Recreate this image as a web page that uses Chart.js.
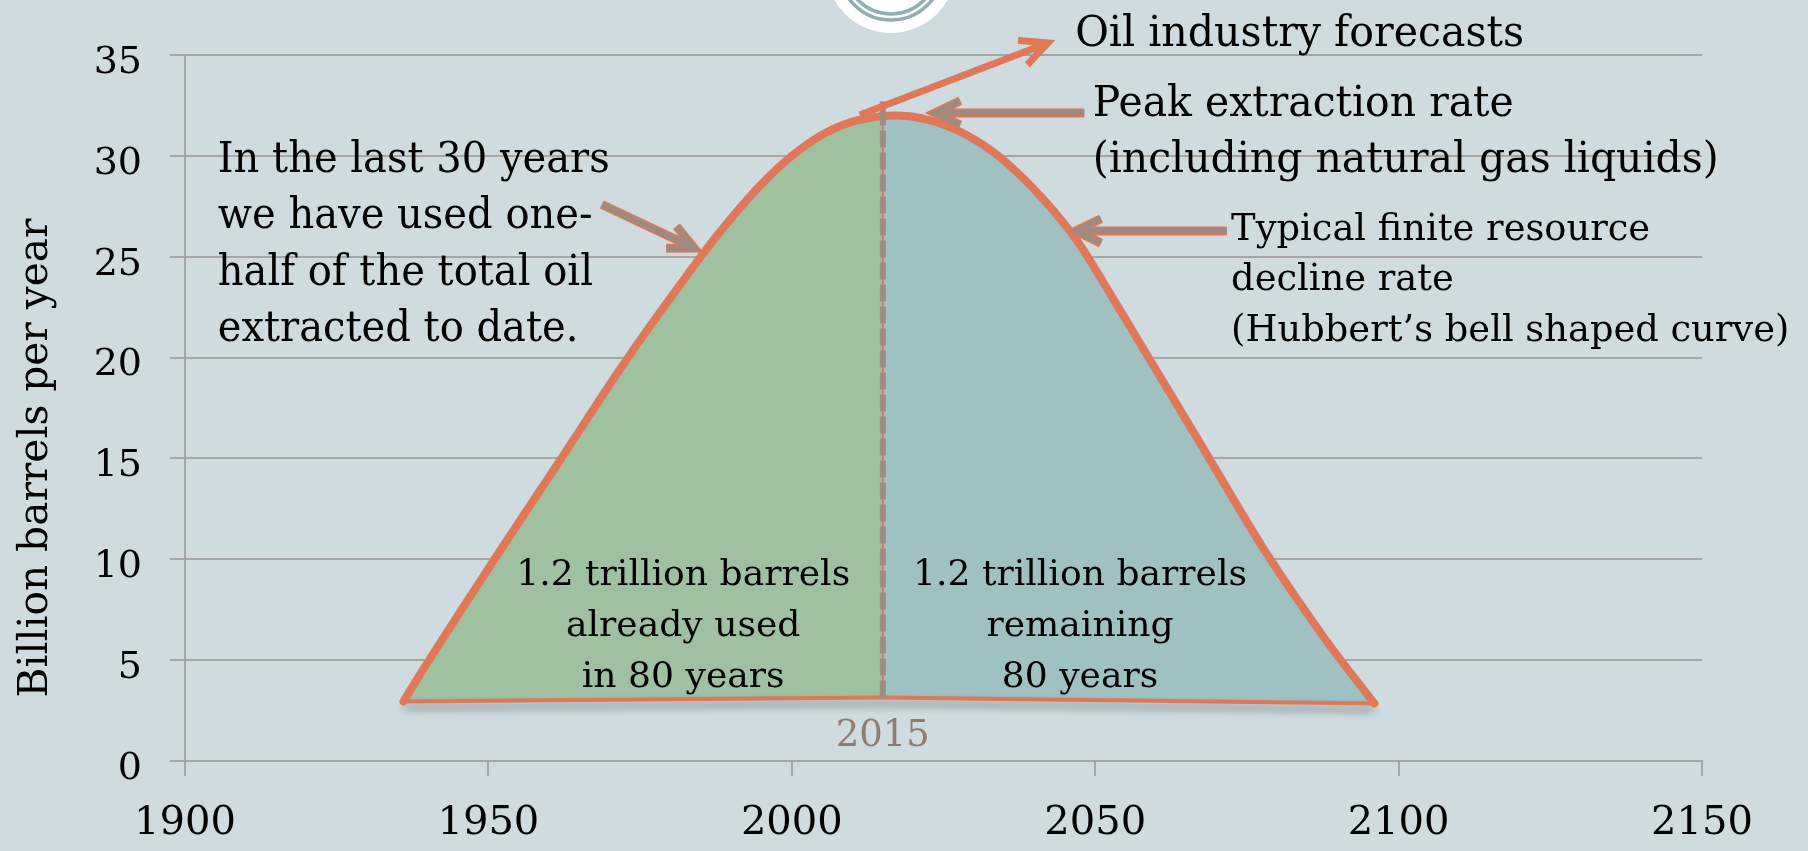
<!DOCTYPE html>
<html>
<head>
<meta charset="utf-8">
<title>Oil extraction and Hubbert's curve</title>
<script src="https://cdn.jsdelivr.net/npm/chart.js@4.4.1/dist/chart.umd.min.js"></script>
<style>
  html, body { margin: 0; padding: 0; background: #cfdbdf; overflow: hidden; }
  canvas { display: block; }
</style>
</head>
<body>
<canvas id="oilChart" width="1808" height="851"></canvas>
<script>
// extraction rate along the bell curve (billion barrels per year)
const curveYears = [1936, 1940, 1951, 1962, 1973, 1985, 1990, 1995, 2000, 2005, 2010, 2015, 2017, 2020, 2025, 2030, 2035, 2041, 2047, 2053, 2058, 2068, 2078, 2088, 2096];
const curveRates = [2.95, 4.9, 10, 15, 20, 25.0, 26.9, 28.6, 30.0, 31.05, 31.7, 31.98, 32.0, 31.94, 31.56, 30.83, 29.76, 28.0, 25.8, 22.9, 20.4, 15.4, 10.4, 6.0, 2.85];

// bottom edge of the shaded area
const baseYears = [1936, 2015, 2096];
const baseRates = [2.95, 3.15, 2.85];

// today: used vs remaining
const splitYear = 2015;
const dividerTop = 32.7;

const xTicks = [1900, 1950, 2000, 2050, 2100, 2150];
const yTicks = [0, 5, 10, 15, 20, 25, 30, 35];

const FONT = '"DejaVu Serif", Georgia, serif';
const ORANGE = '#df7858';
const GREY = '#a08a80';
const GRID = '#a6a6a6';
const TENSION = 0.3;

const pts = (xs, ys) => xs.map((x, i) => ({ x: x, y: ys[i] }));
const curve = pts(curveYears, curveRates);
const usedPart = curve.filter(p => p.x <= splitYear);
const leftPart = curve.filter(p => p.x >= splitYear);
const baseAtSplit = baseRates[baseYears.indexOf(splitYear)];
const rateAtSplit = curveRates[curveYears.indexOf(splitYear)];

// text notes, anchored in data units (x = year, y = rate)
const notes = [
  { lines: ['Oil industry forecasts'], x: 2046.7, y: 35.45, size: 42, lead: 0, width: 449, align: 'left' },
  { lines: ['Peak extraction rate', '(including natural gas liquids)'], x: 2049.6, y: 31.98, size: 42, lead: 56, width: 421, align: 'left' },
  { lines: ['Typical finite resource', 'decline rate', '(Hubbert\u2019s bell shaped curve)'], x: 2072.4, y: 25.83, size: 37, lead: 50.5, width: 419, align: 'left' },
  { lines: ['In the last 30 years', 'we have used one-', 'half of the total oil', 'extracted to date.'], x: 1905.4, y: 29.2, size: 42, lead: 56.5, width: 392, align: 'left' },
  { lines: ['1.2 trillion barrels', 'already used', 'in 80 years'], x: 1982.1, y: 8.73, size: 36, lead: 51, width: 334, align: 'center' },
  { lines: ['1.2 trillion barrels', 'remaining', '80 years'], x: 2047.5, y: 8.73, size: 36, lead: 51, width: 334, align: 'center' },
  { lines: ['2015'], x: splitYear, y: 0.74, size: 37, lead: 0, align: 'center', color: '#8e7d74' }
];

// arrows: from (x1,y1) to the tip (x2,y2)
const arrows = [
  { x1: 2011.2, y1: 32.03, x2: 2042.2, y2: 35.6, color: ORANGE, edge: null, width: 7, head: 30 },
  { x1: 2048.2, y1: 32.13, x2: 2023.6, y2: 32.13, color: GREY, edge: ORANGE, width: 6, head: 28 },
  { x1: 2071.7, y1: 26.28, x2: 2046.8, y2: 26.28, color: GREY, edge: ORANGE, width: 6, head: 28 },
  { x1: 1968.7, y1: 27.59, x2: 1983.9, y2: 25.43, color: GREY, edge: ORANGE, width: 6, head: 28 }
];

function toPx(chart, x, y) {
  return [chart.scales.x.getPixelForValue(x), chart.scales.y.getPixelForValue(y)];
}

function drawArrow(ctx, a, p1, p2) {
  const ang = Math.atan2(p2[1] - p1[1], p2[0] - p1[0]);
  const spread = 0.45;
  const path = () => {
    ctx.beginPath();
    ctx.moveTo(p1[0], p1[1]);
    ctx.lineTo(p2[0], p2[1]);
    ctx.moveTo(p2[0] - a.head * Math.cos(ang - spread), p2[1] - a.head * Math.sin(ang - spread));
    ctx.lineTo(p2[0], p2[1]);
    ctx.lineTo(p2[0] - a.head * Math.cos(ang + spread), p2[1] - a.head * Math.sin(ang + spread));
  };
  ctx.save();
  ctx.lineJoin = 'miter';
  ctx.lineCap = 'butt';
  if (a.edge) {
    path();
    ctx.strokeStyle = a.edge;
    ctx.lineWidth = a.width + 3;
    ctx.stroke();
  }
  path();
  ctx.strokeStyle = a.color;
  ctx.lineWidth = a.width;
  ctx.stroke();
  ctx.restore();
}

function drawNote(ctx, chart, n) {
  ctx.save();
  ctx.font = n.size + 'px ' + FONT;
  ctx.fillStyle = n.color || '#000';
  ctx.textAlign = n.align;
  ctx.textBaseline = 'alphabetic';
  const p = toPx(chart, n.x, n.y);
  const sx = n.width ? n.width / ctx.measureText(n.lines[0]).width : 1;
  n.lines.forEach((line, i) => {
    ctx.save();
    ctx.translate(p[0], p[1] + i * n.lead);
    ctx.scale(sx, 1);
    ctx.fillText(line, 0, 0);
    ctx.restore();
  });
  ctx.restore();
}

const decorations = {
  id: 'decorations',
  beforeDraw(chart) {
    // round badge peeking in at the top
    const ctx = chart.ctx;
    ctx.save();
    ctx.fillStyle = '#ffffff';
    ctx.beginPath();
    ctx.arc(891, -32, 65, 0, Math.PI * 2);
    ctx.fill();
    ctx.strokeStyle = '#8fb0ad';
    ctx.lineWidth = 3.5;
    [52, 46].forEach(r => {
      ctx.beginPath();
      ctx.arc(891, -32, r, 0, Math.PI * 2);
      ctx.stroke();
    });
    ctx.restore();
  },
  beforeDatasetDraw(chart, args) {
    if (args.index === 3) {
      const ctx = chart.ctx;
      ctx.save();
      ctx.shadowColor = 'rgba(0,0,0,0.4)';
      ctx.shadowBlur = 9;
      ctx.shadowOffsetY = 6;
    }
  },
  afterDatasetDraw(chart, args) {
    if (args.index === 3) chart.ctx.restore();
  },
  afterDatasetsDraw(chart) {
    const ctx = chart.ctx;
    arrows.forEach(a => drawArrow(ctx, a, toPx(chart, a.x1, a.y1), toPx(chart, a.x2, a.y2)));
    notes.forEach(n => drawNote(ctx, chart, n));

    // axis title, drawn by hand so it can sit a little below centre
    ctx.save();
    ctx.font = '41px ' + FONT;
    ctx.fillStyle = '#000';
    ctx.textAlign = 'center';
    ctx.textBaseline = 'alphabetic';
    const title = 'Billion barrels per year';
    const sx = 479 / ctx.measureText(title).width;
    ctx.translate(47, 458);
    ctx.rotate(-Math.PI / 2);
    ctx.scale(sx, 1);
    ctx.fillText(title, 0, 0);
    ctx.restore();
  }
};

new Chart(document.getElementById('oilChart'), {
  type: 'line',
  data: {
    datasets: [
      {
        // dashed marker for today
        data: [{ x: splitYear, y: baseAtSplit }, { x: splitYear, y: dividerTop }],
        borderColor: '#9e8b82',
        borderWidth: 6,
        borderDash: [17, 5],
        pointRadius: 0,
        fill: false
      },
      {
        data: curve,
        borderColor: ORANGE,
        borderWidth: 8,
        borderCapStyle: 'round',
        tension: TENSION,
        pointRadius: 0,
        fill: false
      },
      {
        // edge between the two shaded halves
        data: [{ x: splitYear, y: baseAtSplit }, { x: splitYear, y: rateAtSplit }],
        borderColor: ORANGE,
        borderWidth: 2,
        pointRadius: 0,
        fill: false
      },
      {
        data: pts(baseYears, baseRates),
        borderColor: ORANGE,
        borderWidth: 4,
        pointRadius: 0,
        fill: false
      },
      {
        data: usedPart,
        borderWidth: 0,
        borderColor: 'rgba(0,0,0,0)',
        backgroundColor: '#a0c1a1',
        tension: TENSION,
        pointRadius: 0,
        fill: 3
      },
      {
        data: leftPart,
        borderWidth: 0,
        borderColor: 'rgba(0,0,0,0)',
        backgroundColor: '#a0c1c2',
        tension: TENSION,
        pointRadius: 0,
        fill: 3
      }
    ]
  },
  options: {
    responsive: false,
    animation: false,
    devicePixelRatio: 1,
    events: [],
    layout: { padding: { top: 55, right: 106, left: 0, bottom: 0 } },
    plugins: {
      legend: { display: false },
      tooltip: { enabled: false }
    },
    scales: {
      x: {
        type: 'linear',
        min: 1900,
        max: 2150,
        afterBuildTicks: s => { s.ticks = xTicks.map(v => ({ value: v })); },
        afterFit: s => { s.height = 90; },
        grid: { drawOnChartArea: false, drawTicks: true, tickLength: 15, color: GRID, lineWidth: 2 },
        border: { color: GRID, width: 2 },
        ticks: {
          color: '#000',
          padding: 24,
          maxRotation: 0,
          font: { family: FONT, size: 40 },
          callback: v => String(v)
        }
      },
      y: {
        min: 0,
        max: 35,
        afterBuildTicks: s => { s.ticks = yTicks.map(v => ({ value: v })); },
        afterFit: s => { s.width = 185; },
        grid: { color: GRID, lineWidth: 2, tickLength: 15 },
        border: { color: GRID, width: 2 },
        ticks: {
          color: '#000',
          padding: 28,
          labelOffset: 8,
          font: { family: FONT, size: 38 },
          callback: v => String(v)
        }
      }
    }
  },
  plugins: [decorations]
});
</script>
</body>
</html>
